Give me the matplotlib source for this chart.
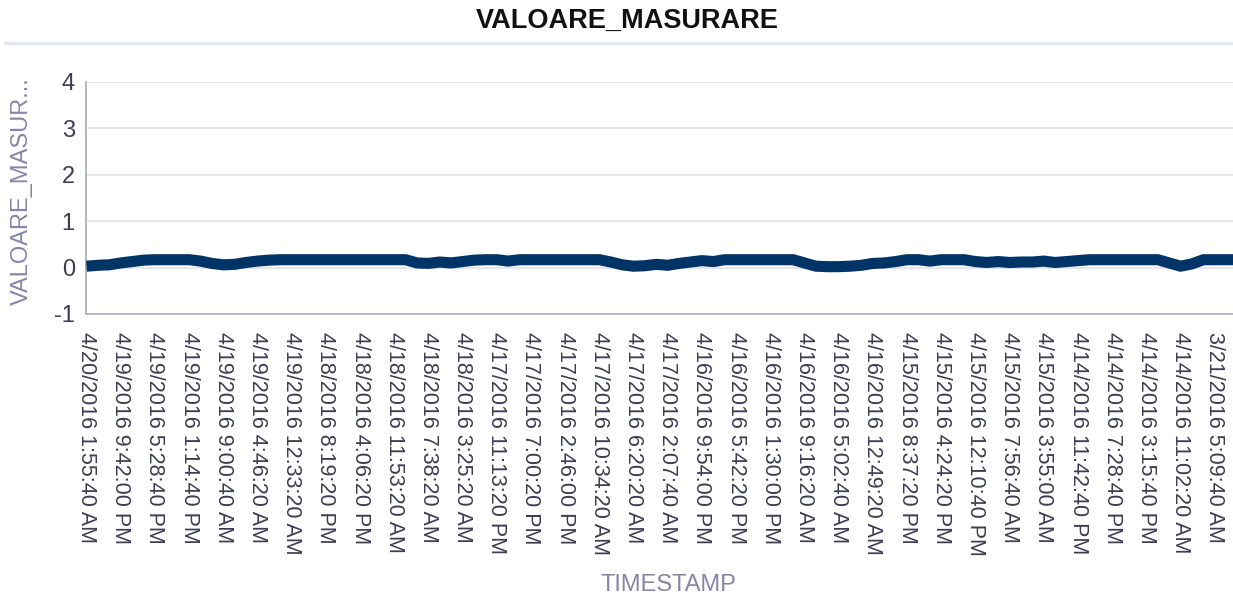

# Grafic VALOARE_MASURARE vs TIMESTAMP (axa x pe categorii, etichete rotite)

import matplotlib
matplotlib.use("Agg")
import matplotlib.pyplot as plt
from matplotlib.lines import Line2D

plt.rcParams["font.family"] = ["Liberation Sans", "DejaVu Sans"]

# etichetele afisate pe axa x (una la fiecare 3 puncte)
TICK_LABELS = [
    "4/20/2016 1:55:40 AM", "4/19/2016 9:42:00 PM", "4/19/2016 5:28:40 PM",
    "4/19/2016 1:14:40 PM", "4/19/2016 9:00:40 AM", "4/19/2016 4:46:20 AM",
    "4/19/2016 12:33:20 AM", "4/18/2016 8:19:20 PM", "4/18/2016 4:06:20 PM",
    "4/18/2016 11:53:20 AM", "4/18/2016 7:38:20 AM", "4/18/2016 3:25:20 AM",
    "4/17/2016 11:13:20 PM", "4/17/2016 7:00:20 PM", "4/17/2016 2:46:00 PM",
    "4/17/2016 10:34:20 AM", "4/17/2016 6:20:20 AM", "4/17/2016 2:07:40 AM",
    "4/16/2016 9:54:00 PM", "4/16/2016 5:42:20 PM", "4/16/2016 1:30:00 PM",
    "4/16/2016 9:16:20 AM", "4/16/2016 5:02:40 AM", "4/16/2016 12:49:20 AM",
    "4/15/2016 8:37:20 PM", "4/15/2016 4:24:20 PM", "4/15/2016 12:10:40 PM",
    "4/15/2016 7:56:40 AM", "4/15/2016 3:55:00 AM", "4/14/2016 11:42:40 PM",
    "4/14/2016 7:28:40 PM", "4/14/2016 3:15:40 PM", "4/14/2016 11:02:20 AM",
    "3/21/2016 5:09:40 AM",
]
LABEL_STEP = 3

# valorile masurate
VALUES = [
    0.03, 0.05, 0.06, 0.10, 0.13, 0.16, 0.17, 0.17, 0.17, 0.17,
    0.14, 0.09, 0.06, 0.07, 0.11, 0.14, 0.16, 0.17, 0.17, 0.17,
    0.17, 0.17, 0.17, 0.17, 0.17, 0.17, 0.17, 0.17, 0.17, 0.10,
    0.09, 0.12, 0.10, 0.13, 0.16, 0.17, 0.17, 0.14, 0.17, 0.17,
    0.17, 0.17, 0.17, 0.17, 0.17, 0.17, 0.12, 0.06, 0.03, 0.04,
    0.07, 0.05, 0.09, 0.12, 0.15, 0.13, 0.17, 0.17, 0.17, 0.17,
    0.17, 0.17, 0.17, 0.10, 0.03, 0.02, 0.02, 0.03, 0.05, 0.09,
    0.10, 0.13, 0.17, 0.17, 0.14, 0.17, 0.17, 0.17, 0.13, 0.11,
    0.13, 0.11, 0.12, 0.12, 0.14, 0.11, 0.13, 0.15, 0.17, 0.17,
    0.17, 0.17, 0.17, 0.17, 0.17, 0.10, 0.03, 0.08, 0.17, 0.17,
    0.17, 0.17,
]

Y_TICKS = [-1, 0, 1, 2, 3, 4]

LINE_COLOR = "#003366"
AXIS_COLOR = "#b4b4c8"
GRID_COLOR = "#e6e6ee"
TICK_COLOR = "#3c3d52"
TITLE_AXIS_COLOR = "#8485a8"


def main():
    fig = plt.figure(figsize=(12.33, 6.05), dpi=100)
    ax = fig.add_axes([0.0697, 0.481, 0.9303, 0.3835])

    x = list(range(len(VALUES)))
    ax.plot(x, VALUES, color=LINE_COLOR, linewidth=8.0,
            solid_capstyle="butt", solid_joinstyle="round", zorder=3)

    ax.set_xlim(-0.05, 100.6)
    ax.set_ylim(-1, 4)
    ax.set_yticks(Y_TICKS)
    ax.set_yticklabels([str(v) for v in Y_TICKS])

    ticks = [i * LABEL_STEP for i in range(len(TICK_LABELS))]
    ax.set_xticks(ticks)
    ax.set_xticklabels(TICK_LABELS, rotation=270, ha="center", va="top")

    ax.tick_params(axis="both", length=0, colors=TICK_COLOR)
    ax.tick_params(axis="y", labelsize=17, pad=8)
    ax.tick_params(axis="x", labelsize=15.5, pad=13)

    ax.grid(axis="y", color=GRID_COLOR, linewidth=1.4)
    ax.set_axisbelow(True)

    for side in ("top", "right"):
        ax.spines[side].set_visible(False)
    for side in ("left", "bottom"):
        ax.spines[side].set_color(AXIS_COLOR)
        ax.spines[side].set_linewidth(1.4)

    ax.set_ylabel("VALOARE_MASUR...", fontsize=17, color=TITLE_AXIS_COLOR)
    ax.yaxis.set_label_coords(-0.046, 0.53)
    ax.set_xlabel("TIMESTAMP", fontsize=17, color=TITLE_AXIS_COLOR)
    ax.xaxis.set_label_coords(0.508, -1.12)

    fig.text(0.509, 0.966, "VALOARE_MASURARE", ha="center", va="center",
             fontsize=19.5, fontweight="bold", color="#111111")
    fig.add_artist(Line2D([0.004, 1.0], [0.929, 0.929], color=GRID_COLOR,
                          linewidth=2.5, transform=fig.transFigure))

    fig.savefig("out.png", dpi=100)


if __name__ == "__main__":
    main()
